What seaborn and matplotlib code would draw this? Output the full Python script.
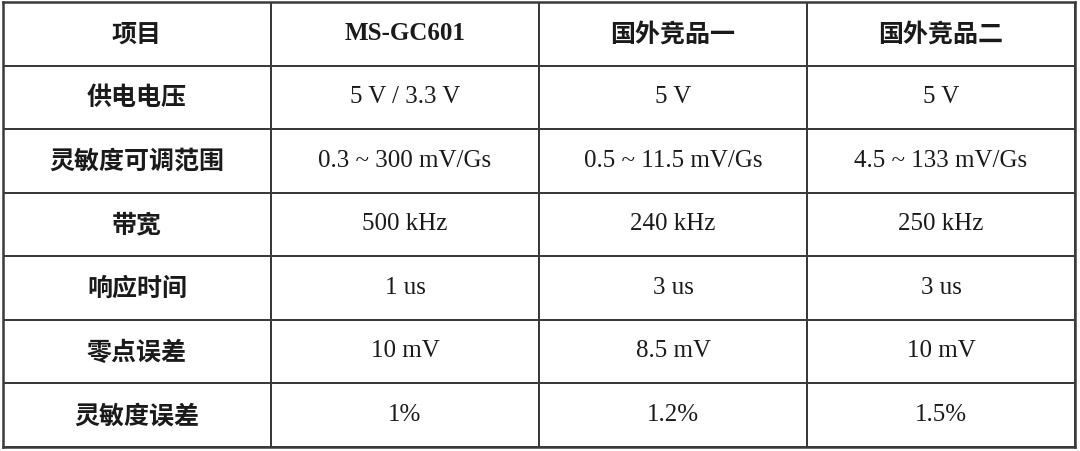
import numpy as np
import pandas as pd
import seaborn as sns
import matplotlib
matplotlib.use("Agg")
import matplotlib.pyplot as plt
from matplotlib.colors import ListedColormap

header = ["项目", "MS-GC601", "国外竞品一", "国外竞品二"]
items = ["供电电压", "灵敏度可调范围", "带宽", "响应时间", "零点误差", "灵敏度误差"]
ms_gc601 = ["5 V / 3.3 V", "0.3 ~ 300 mV/Gs", "500 kHz", "1 us", "10 mV", "1%"]
rival_1 = ["5 V", "0.5 ~ 11.5 mV/Gs", "240 kHz", "3 us", "8.5 mV", "1.2%"]
rival_2 = ["5 V", "4.5 ~ 133 mV/Gs", "250 kHz", "3 us", "10 mV", "1.5%"]

rows = [header] + [[items[i], ms_gc601[i], rival_1[i], rival_2[i]] for i in range(len(items))]
table = pd.DataFrame(rows)

sns.set_theme(style="white")
plt.rcParams['font.family'] = ['Noto Sans CJK SC', 'DejaVu Sans']

fig = plt.figure(figsize=(10.8, 4.52), dpi=100)
ax = fig.add_axes([3/1080, 1 - 448/452, 1072/1080, 445/452])

line_col = "#3a3a3a"
sns.heatmap(np.zeros(table.shape), cmap=ListedColormap(["white"]), cbar=False,
            linewidths=1.3, linecolor=line_col, ax=ax)
ax.set_xticks([])
ax.set_yticks([])
for s in ax.spines.values():
    s.set_visible(True)
    s.set_linewidth(1.8)
    s.set_color(line_col)

txt_col = "#1a1a1a"
cjk = ['Noto Sans CJK SC', 'DejaVu Sans']
serif = ['Liberation Serif', 'DejaVu Serif']

def is_cjk(s):
    return any('\u4e00' <= ch <= '\u9fff' for ch in s)

for i in range(table.shape[0]):
    for j in range(table.shape[1]):
        s = table.iat[i, j]
        if is_cjk(s):
            ax.text(j + 0.5, i + 0.5, s, ha="center", va="center",
                    family=cjk, fontsize=18, fontweight="bold", color=txt_col)
        else:
            bold = (i == 0)
            ax.text(j + 0.5, i + 0.48, s, ha="center", va="center",
                    family=serif, fontsize=18, fontweight="bold" if bold else "normal",
                    color=txt_col)

fig.savefig("out.png", dpi=100, facecolor="white")
